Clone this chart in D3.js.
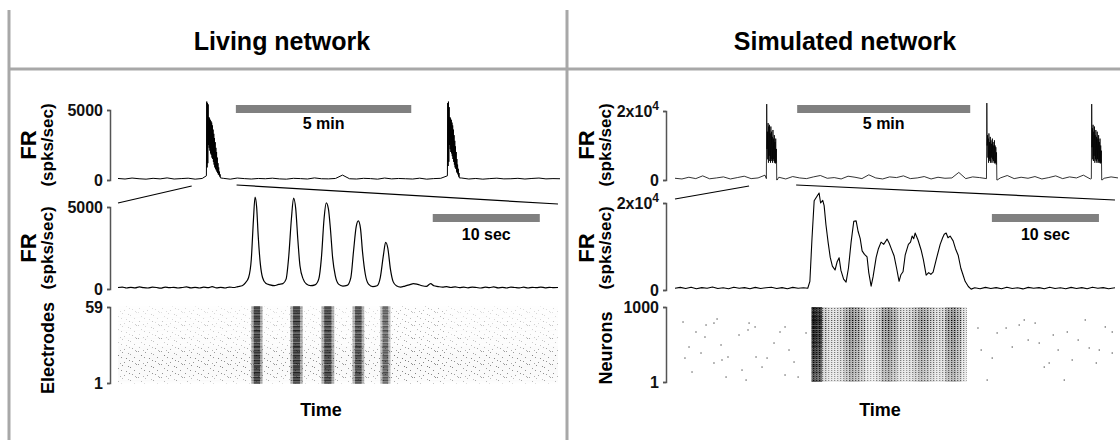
<!DOCTYPE html>
<html>
<head>
<meta charset="utf-8">
<script src="https://cdn.jsdelivr.net/npm/d3@7"></script>
<style>
  body { margin: 0; background: #fff; }
  svg { display: block; font-family: "Liberation Sans", Arial, sans-serif; font-weight: bold; }
</style>
</head>
<body>
<svg id="chart" width="1120" height="440"></svg>
<script>
// ---- overview traces (time in minutes, FR in spikes/sec) ----
const topLeftNoiseStep = 0.2;
const topLeftNoise = [110,70,140,90,60,120,80,150,70,100, 130,60,110,90,80,120,60,140,100,70,
  110,90,130,80,60,120,100,70,150,90, 80,110,350,90,70,120,100,60,140,80,
  110,90,70,130,60,100,120,80,90,140, 70,110,60,100,130,80,90,120,70,110, 140,80,100,90];
const topLeftBurstStarts = [2.52, 9.39];
const topLeftBurstStep = 0.01;
const topLeftBurst1 = [300,5600,900,5500,1200,5400,2500,4500,2300,4400,2100,4300,1900,4200,1800,4100,1600,3900,1500,3600,
  1300,3300,1100,3000,900,2700,800,2300,700,2000,600,1600,500,1200,400,900,350,600,250,400,150];
const topLeftBurst2 = [300,5500,1000,5600,1300,5200,2500,4500,2200,4400,2000,4300,1900,4100,1700,3900,1500,3600,1300,3200,
  1100,2800,900,2400,800,2000,600,1500,500,1100,400,800,250,500,150];

const topRightNoiseStep = 0.2;
const topRightNoise = [500,300,800,400,1200,350,600,900,300,700, 1100,400,600,1400,500,800,300,1000,600,400,
  900,1300,500,700,300,1100,800,400,1500,600, 300,900,700,1200,400,600,1000,300,800,500,
  600,2200,400,900,700,300,1100,600,1300,400, 800,500,1000,300,700,1200,400,900,600,1400, 300,700,500,900,600];
const topRightBurstStarts = [2.64, 9.0, 12.03];
const topRightBurstStep = 0.01;
const topRightBurst1 = [400,22000,9000,14000,6000,16500,5000,15500,7000,16000,5500,13500,5000,15500,6000,14000,
  5500,12500,5000,14500,6000,12000,5500,13000,5000,11000,4800,12000,5000,9000,0,0];
const topRightBurst2 = [400,22300,10000,13000,6500,12000,5000,13500,6000,11000,5500,12500,5000,11500,6500,10500,
  5000,12000,6000,11000,5500,10000,5000,11500,4800,10000,5000,9500,4500,8000,0,0];
const topRightBurst3 = [400,22000,9500,15000,6000,16000,5500,14000,7000,15500,5000,13000,6000,14500,5500,12500,
  5000,14000,6000,12000,5000,13000,5500,11000,5000,12000,4800,10000,5000,8500,0,0];

// ---- zoomed traces (time in seconds) ----
const midLeft = [[0,90],[0.4,120],[0.8,60],[1.2,100],[1.6,70],[2,130],[2.4,80],[2.8,60],[3.2,110],[3.6,90],
  [4,50],[4.4,120],[4.8,80],[5.2,100],[5.6,60],[6,90],[6.4,130],[6.8,70],[7.2,100],[7.6,60],[8,110],[8.4,80],
  [8.8,140],[9.2,70],[9.6,100],[10,60],[10.4,120],[10.8,90],[11.2,150],[11.6,200],[11.9,380],[12.2,700],
  [12.45,1800],[12.65,4200],[12.8,5600],[12.95,5000],[13.1,3200],[13.3,1500],[13.5,700],[13.8,350],[14.2,250],
  [14.6,200],[15.0,280],[15.4,330],[15.7,600],[15.95,2000],[16.2,4300],[16.4,5550],[16.6,4900],[16.8,3000],
  [17.0,1400],[17.3,600],[17.6,300],[18.0,200],[18.4,250],[18.75,600],[19.0,1900],[19.25,4300],[19.45,5250],
  [19.65,4900],[19.85,3600],[20.05,1900],[20.3,800],[20.6,300],[21.0,180],[21.4,220],[21.75,700],[22.0,2300],
  [22.25,3800],[22.45,4150],[22.65,3700],[22.85,2200],[23.1,900],[23.4,300],[23.8,150],[24.2,200],[24.5,700],
  [24.8,2100],[25.0,2850],[25.2,2500],[25.45,1200],[25.7,450],[26.0,200],[26.4,120],[26.8,180],[27.2,250],
  [27.6,330],[28.0,280],[28.4,200],[28.8,160],[29.2,330],[29.5,200],[29.9,150],[30.3,110],[30.7,140],[31.1,90],
  [31.5,130],[31.9,80],[32.3,110],[32.7,70],[33.1,120],[33.5,90],[33.9,60],[34.3,110],[34.7,80],[35.1,130],
  [35.5,70],[35.9,100],[36.3,60],[36.7,120],[37.1,90],[37.5,70],[37.9,110],[38.3,60],[38.7,100],[39.1,80],
  [39.5,120],[39.9,70],[40.3,100],[40.7,80],[41.1,90]];

const midRight = [[0,400],[0.5,600],[1,350],[1.5,650],[2,300],[2.5,550],[3,400],[3.5,700],[4,350],[4.5,500],
  [5,300],[5.5,650],[6,400],[6.5,550],[7,300],[7.5,600],[8,350],[8.5,500],[9,650],[9.5,350],[10,550],[10.5,300],
  [11,600],[11.5,400],[12,500],[12.4,400],[12.6,2000],[12.8,12000],[13.0,20500],[13.25,21500],[13.46,22300],
  [13.6,20000],[13.8,20600],[13.93,19400],[14.1,15000],[14.3,11000],[14.5,7500],[14.7,5500],[14.95,4600],
  [15.15,6500],[15.33,7400],[15.5,4500],[15.75,2500],[15.98,1800],[16.2,5000],[16.45,11000],[16.7,15800],
  [16.92,15900],[17.1,13500],[17.3,11800],[17.48,9000],[17.7,8200],[17.94,7600],[18.1,4000],[18.32,900],
  [18.5,3000],[18.79,7500],[19.0,9500],[19.25,11000],[19.5,10500],[19.81,11700],[20.0,10800],[20.2,9500],
  [20.47,7800],[20.7,5000],[20.93,2000],[21.1,3500],[21.3,4200],[21.5,8000],[21.8,10500],[22.0,11000],
  [22.15,12400],[22.3,11800],[22.43,13100],[22.7,11500],[22.99,9200],[23.2,7000],[23.46,3400],[23.7,4000],
  [23.9,3600],[24.11,4100],[24.4,7000],[24.77,10500],[25.0,12000],[25.15,12800],[25.33,13100],[25.5,12000],
  [25.7,12400],[25.98,11300],[26.2,9500],[26.45,8000],[26.7,5000],[26.9,3500],[27.1,2000],[27.4,800],
  [27.66,200],[28,500],[28.5,300],[29,600],[29.5,350],[30,550],[30.5,300],[31,650],[31.5,350],[32,500],
  [32.5,250],[33,600],[33.5,400],[34,550],[34.5,300],[35,650],[35.5,350],[36,500],[36.5,300],[37,600],
  [37.5,350],[38,550],[38.5,300],[39,650],[39.5,400],[40,550],[40.5,300],[41.1,500]];

// ---- electrode raster (living network) ----
const electrodeBurstGain = [0.9,0.6,0.95,0.7,1,0.55,0.9,0.8,1,0.6, 0.95,0.7,0.85,1,0.5,0.9,0.75,1,0.6,0.9,
  0.8,0.95,0.55,1,0.7,0.9,0.6,0.85,1,0.65, 0.9,0.5,0.95,0.8,0.6,1,0.7,0.9,0.55,0.85,
  1,0.6,0.8,0.95,0.5,0.9,0.7,1,0.6,0.85, 0.75,0.95,0.55,0.9,0.7,1,0.6,0.8,0.9];
const electrodeBackground = [0.10,0.14,0.18,0.12,0.20,0.16,0.22,0.26,0.18,0.24, 0.28,0.20,0.26,0.30,0.22,0.18,0.27,0.24,0.20,0.30,
  0.22,0.26,0.18,0.24,0.20,0.16,0.22,0.14,0.18,0.12, 0.16,0.10,0.14,0.12,0.18,0.10,0.13,0.08,0.12,0.10,
  0.14,0.09,0.12,0.08,0.11,0.10,0.07,0.12,0.09,0.08, 0.11,0.07,0.10,0.08,0.06,0.09,0.07,0.08,0.06];
const livingBurstStart = [12.45, 16.1, 19.0, 21.9, 24.5, 25.5];
const livingBurstEnd   = [13.5, 17.25, 20.2, 23.0, 25.45, 30.5];
const livingBurstLevel = [0.95, 0.95, 0.9, 0.85, 0.7, 0.25];

// ---- neuron raster (simulated network) ----
const neuronGroupSize = 50;
const neuronGroupGain = [0.55,0.5,0.6,0.55,0.65,0.6,0.7,0.75,0.7,0.8, 0.85,0.8,0.9,0.85,0.95,0.9,1,0.95,0.9,0.85];
const simDensityStart = 12.75;
const simDensityStep = 0.5;
const simDensity = [1.0,0.95,0.45,0.35,0.35,0.4,0.55,0.65,0.6,0.5, 0.35,0.3,0.4,0.6,0.65,0.55,0.4,0.35,0.4,0.5,
  0.6,0.55,0.45,0.35,0.4,0.6,0.65,0.55,0.35];
const simSpikes = [[0.75,800],[1.96,667],[2.9,760],[3.64,786],[3.93,840],[1.31,467],[0.93,320],[1.59,134],
  [2.43,387],[2.8,600],[3.64,254],[4.3,494],[4.39,294],[4.95,334],[5.98,627],[6.26,160],[6.82,694],[6.92,786],
  [7.48,734],[7.57,334],[8.13,200],[8.6,320],[9.25,520],[9.81,667],[10.28,734],[10.65,427],[11.12,267],
  [11.5,67],[12.24,654],[6.64,27],[4.77,67],[10.28,94],
  [28.3,720],[28.6,427],[29.16,27],[29.63,320],[30.09,654],[30.93,720],[31.5,467],[32.15,760],[32.62,827],
  [32.99,560],[33.64,786],[34.02,520],[34.49,200],[34.95,254],[35.33,627],[35.79,427],[36.36,27],[36.64,667],
  [37.1,294],[37.66,560],[38.32,827],[38.69,454],[39.35,254],[39.63,427],[40.19,734],[40.84,667],[40.84,387]];

// ---- labels, scale bars, zoom windows ----
const panelTitles = ["Living network", "Simulated network"];
const frTicksLeft = [0, 5000];
const frTicksRight = [0, 20000];
const rasterTicksLeft = [1, 59];
const rasterTicksRight = [1, 1000];
const rasterLabels = ["Electrodes", "Neurons"];
const overviewBarStart = [3.36, 3.53];   // minutes
const overviewBarLength = 5;
const zoomBarStart = [29.4, 29.6];       // seconds
const zoomBarLength = 10;
const zoomWindows = [[2.10, 3.38], [2.14, 3.50]]; // minutes in the overview

let svg = d3.select("#chart");
const frameColor = "#a8a8a8";

// texture tiles for the rasters
let defs = svg.append("defs");
let speckle = defs.append("pattern").attr("id", "speckle").attr("patternUnits", "userSpaceOnUse")
  .attr("width", 23).attr("height", 13);
[[0,0],[7,1],[15,3],[3,4],[19,6],[11,7],[1,9],[9,11],[17,10],[5,12],[13,2],[21,0],[20,12],[6,6],[14,9]].forEach(p => {
  speckle.append("rect").attr("x", p[0]).attr("y", p[1]).attr("width", 1).attr("height", 1).attr("fill", "#444");
});
let dots = defs.append("pattern").attr("id", "dots").attr("patternUnits", "userSpaceOnUse")
  .attr("width", 3).attr("height", 2);
dots.append("rect").attr("x", 0).attr("y", 0).attr("width", 1.3).attr("height", 1).attr("fill", "#000");

// frame
svg.append("line").attr("x1", 9).attr("x2", 9).attr("y1", 10).attr("y2", 440)
  .attr("stroke", frameColor).attr("stroke-width", 3);
svg.append("line").attr("x1", 567).attr("x2", 567).attr("y1", 10).attr("y2", 440)
  .attr("stroke", frameColor).attr("stroke-width", 3);
svg.append("line").attr("x1", 9).attr("x2", 1120).attr("y1", 69).attr("y2", 69)
  .attr("stroke", frameColor).attr("stroke-width", 3);

svg.selectAll(".title").data(panelTitles).enter().append("text")
  .attr("x", (d, i) => i ? 845 : 282).attr("y", 50)
  .attr("text-anchor", "middle").attr("font-size", 25).text(d => d);

// scales
let xTop = [d3.scaleLinear().domain([0, 12.6]).range([118, 560]),
            d3.scaleLinear().domain([0, 12.8]).range([675, 1118])];
let xMid = [d3.scaleLinear().domain([0, 41.1]).range([118, 558]),
            d3.scaleLinear().domain([0, 41.1]).range([675, 1115])];
let yTop = [d3.scaleLinear().domain([0, 5000]).range([180, 110]),
            d3.scaleLinear().domain([0, 20000]).range([180, 111])];
let yMid = [d3.scaleLinear().domain([0, 5000]).range([289, 207]),
            d3.scaleLinear().domain([0, 20000]).range([290, 203])];
let yRas = [d3.scaleLinear().domain([1, 59]).range([383, 307]),
            d3.scaleLinear().domain([1, 1000]).range([382, 307])];
const axisX = [110, 666];

function buildOverview(noise, noiseStep, starts, bursts, burstStep, gap) {
  let pts = [];
  noise.forEach((v, i) => {
    let t = i * noiseStep;
    let inside = starts.some((s, k) => t >= s - 0.01 && t <= s + bursts[k].length * burstStep + gap);
    if (!inside) pts.push([t, v]);
  });
  starts.forEach((s, k) => bursts[k].forEach((v, j) => pts.push([s + j * burstStep, v])));
  return pts.sort((a, b) => a[0] - b[0]);
}

function trace(data, x, y, width, curve) {
  svg.append("path").datum(data)
    .attr("fill", "none").attr("stroke", "#000").attr("stroke-width", width)
    .attr("stroke-linejoin", "round")
    .attr("d", d3.line().x(d => x(d[0])).y(d => y(d[1])).curve(curve || d3.curveLinear));
}

function bracketAxis(y, ticks, xPos, fmt) {
  let ax = svg.append("g").attr("transform", "translate(" + xPos + ",0)")
    .call(d3.axisLeft(y).tickValues(ticks).tickSize(3).tickPadding(4).tickFormat(d3.format("d")));
  ax.attr("font-family", null).attr("font-size", 16);
  ax.select(".domain").attr("stroke", "#555").attr("stroke-width", 1.5);
  ax.selectAll(".tick line").attr("stroke", "#555").attr("stroke-width", 1.5);
  ax.selectAll(".tick text").attr("fill", "#111").each(function (d) {
    let t = d3.select(this);
    if (fmt && d === 20000) {
      t.text("2x10");
      t.append("tspan").attr("dy", "-0.55em").attr("font-size", 12).text("4");
    }
  });
  return ax;
}

function yLabel(lines, xs, sizes, cy) {
  lines.forEach((s, i) => {
    svg.append("text").attr("transform", "translate(" + xs[i] + "," + cy + ") rotate(-90)")
      .attr("text-anchor", "middle").attr("font-size", sizes[i]).text(s);
  });
}

// overview traces
let topLeft = buildOverview(topLeftNoise, topLeftNoiseStep, topLeftBurstStarts,
  [topLeftBurst1, topLeftBurst2], topLeftBurstStep, 0.0);
let topRight = buildOverview(topRightNoise, topRightNoiseStep, topRightBurstStarts,
  [topRightBurst1, topRightBurst2, topRightBurst3], topRightBurstStep, 0.03);
trace(topLeft, xTop[0], yTop[0], 1);
trace(topRight, xTop[1], yTop[1], 0.8);

// zoomed traces
trace(midLeft, xMid[0], yMid[0], 1.2, d3.curveMonotoneX);
trace(midRight, xMid[1], yMid[1], 1.1);

// axes
bracketAxis(yTop[0], frTicksLeft, axisX[0]);
bracketAxis(yMid[0], frTicksLeft, axisX[0]);
bracketAxis(yRas[0], rasterTicksLeft, axisX[0]);
bracketAxis(yTop[1], frTicksRight, axisX[1], true);
bracketAxis(yMid[1], frTicksRight, axisX[1], true);
bracketAxis(yRas[1], rasterTicksRight, axisX[1]);

// y labels
[0, 1].forEach(p => {
  let off = p ? 558 : 0;
  yLabel(["FR", "(spks/sec)"], [36 + off, 53 + off], [22, 17], 145);
  yLabel(["FR", "(spks/sec)"], [36 + off, 53 + off], [22, 17], 248);
  yLabel([rasterLabels[p]], [54 + off], [18], 348);
  svg.append("text").attr("x", p ? 880 : 321).attr("y", 416)
    .attr("text-anchor", "middle").attr("font-size", 18).text("Time");
});

// scale bars
[0, 1].forEach(p => {
  let x0 = xTop[p](overviewBarStart[p]), x1 = xTop[p](overviewBarStart[p] + overviewBarLength);
  svg.append("rect").attr("x", x0).attr("y", 105).attr("width", x1 - x0).attr("height", 8).attr("fill", "#808080");
  svg.append("text").attr("x", (x0 + x1) / 2).attr("y", 129).attr("text-anchor", "middle")
    .attr("font-size", 16).text(overviewBarLength + " min");
  let z0 = xMid[p](zoomBarStart[p]), z1 = xMid[p](zoomBarStart[p] + zoomBarLength);
  svg.append("rect").attr("x", z0).attr("y", 214).attr("width", z1 - z0).attr("height", 8).attr("fill", "#808080");
  svg.append("text").attr("x", (z0 + z1) / 2).attr("y", 240).attr("text-anchor", "middle")
    .attr("font-size", 16).text(zoomBarLength + " sec");
});

// zoom connector lines
[0, 1].forEach(p => {
  let yHi = yTop[p](0) + 6, yLo = yMid[p].range()[1] - 4;
  let md = xMid[p].domain();
  svg.append("line").attr("x1", xMid[p](md[0])).attr("y1", yLo)
    .attr("x2", xTop[p](zoomWindows[p][0])).attr("y2", yHi)
    .attr("stroke", "#000").attr("stroke-width", 1.2);
  svg.append("line").attr("x1", xTop[p](zoomWindows[p][1])).attr("y1", yHi - 1)
    .attr("x2", xMid[p](md[1])).attr("y2", yLo + 1)
    .attr("stroke", "#000").attr("stroke-width", 1.2);
});

// living raster
let rasL = svg.append("g");
let rowH = Math.abs(yRas[0](2) - yRas[0](1));
electrodeBackground.forEach((b, i) => {
  let row = { x: xMid[0](0), w: xMid[0](41.1) - xMid[0](0), y: yRas[0](i + 1) - rowH / 2 };
  rasL.append("rect").attr("x", row.x).attr("width", row.w).attr("y", row.y).attr("height", rowH)
    .attr("fill", "#000").attr("fill-opacity", b * 0.1);
  rasL.append("rect").attr("x", row.x).attr("width", row.w).attr("y", row.y).attr("height", rowH)
    .attr("fill", "url(#speckle)").attr("opacity", Math.min(1, b * 2.5));
});
electrodeBurstGain.forEach((g, i) => {
  livingBurstStart.forEach((s, k) => {
    let x0 = xMid[0](s), x1 = xMid[0](livingBurstEnd[k]);
    let a = livingBurstLevel[k] * g;
    let y0 = yRas[0](i + 1) - rowH / 2;
    if (k < 5) {
      let w = x1 - x0;
      rasL.append("rect").attr("x", x0).attr("width", w).attr("y", y0).attr("height", rowH)
        .attr("fill", "#000").attr("fill-opacity", a * 0.45);
      rasL.append("rect").attr("x", x0 + w * 0.22).attr("width", w * 0.56).attr("y", y0).attr("height", rowH)
        .attr("fill", "#000").attr("fill-opacity", a * 0.8);
    } else {
      rasL.append("rect").attr("x", x0).attr("width", x1 - x0).attr("y", y0).attr("height", rowH)
        .attr("fill", "url(#speckle)").attr("opacity", a);
    }
  });
});

// simulated raster
let rasR = svg.append("g");
simDensity.forEach((d, i) => {
  let t0 = simDensityStart + i * simDensityStep;
  neuronGroupGain.forEach((g, j) => {
    let y0 = yRas[1]((j + 1) * neuronGroupSize), y1 = yRas[1](j * neuronGroupSize + 1);
    let cell = { x: xMid[1](t0), w: xMid[1](t0 + simDensityStep) - xMid[1](t0) };
    rasR.append("rect").attr("x", cell.x).attr("width", cell.w).attr("y", y0).attr("height", y1 - y0)
      .attr("fill", "#000").attr("fill-opacity", d * d * (0.3 + 0.6 * g));
    rasR.append("rect").attr("x", cell.x).attr("width", cell.w).attr("y", y0).attr("height", y1 - y0)
      .attr("fill", "url(#dots)").attr("opacity", Math.min(1, d * 1.3 * g + 0.15));
  });
});
rasR.selectAll(".spike").data(simSpikes).enter().append("rect")
  .attr("x", d => xMid[1](d[0]) - 0.6).attr("y", d => yRas[1](d[1]) - 0.6)
  .attr("width", 1.2).attr("height", 1.2).attr("fill", "#444");
</script>
</body>
</html>
